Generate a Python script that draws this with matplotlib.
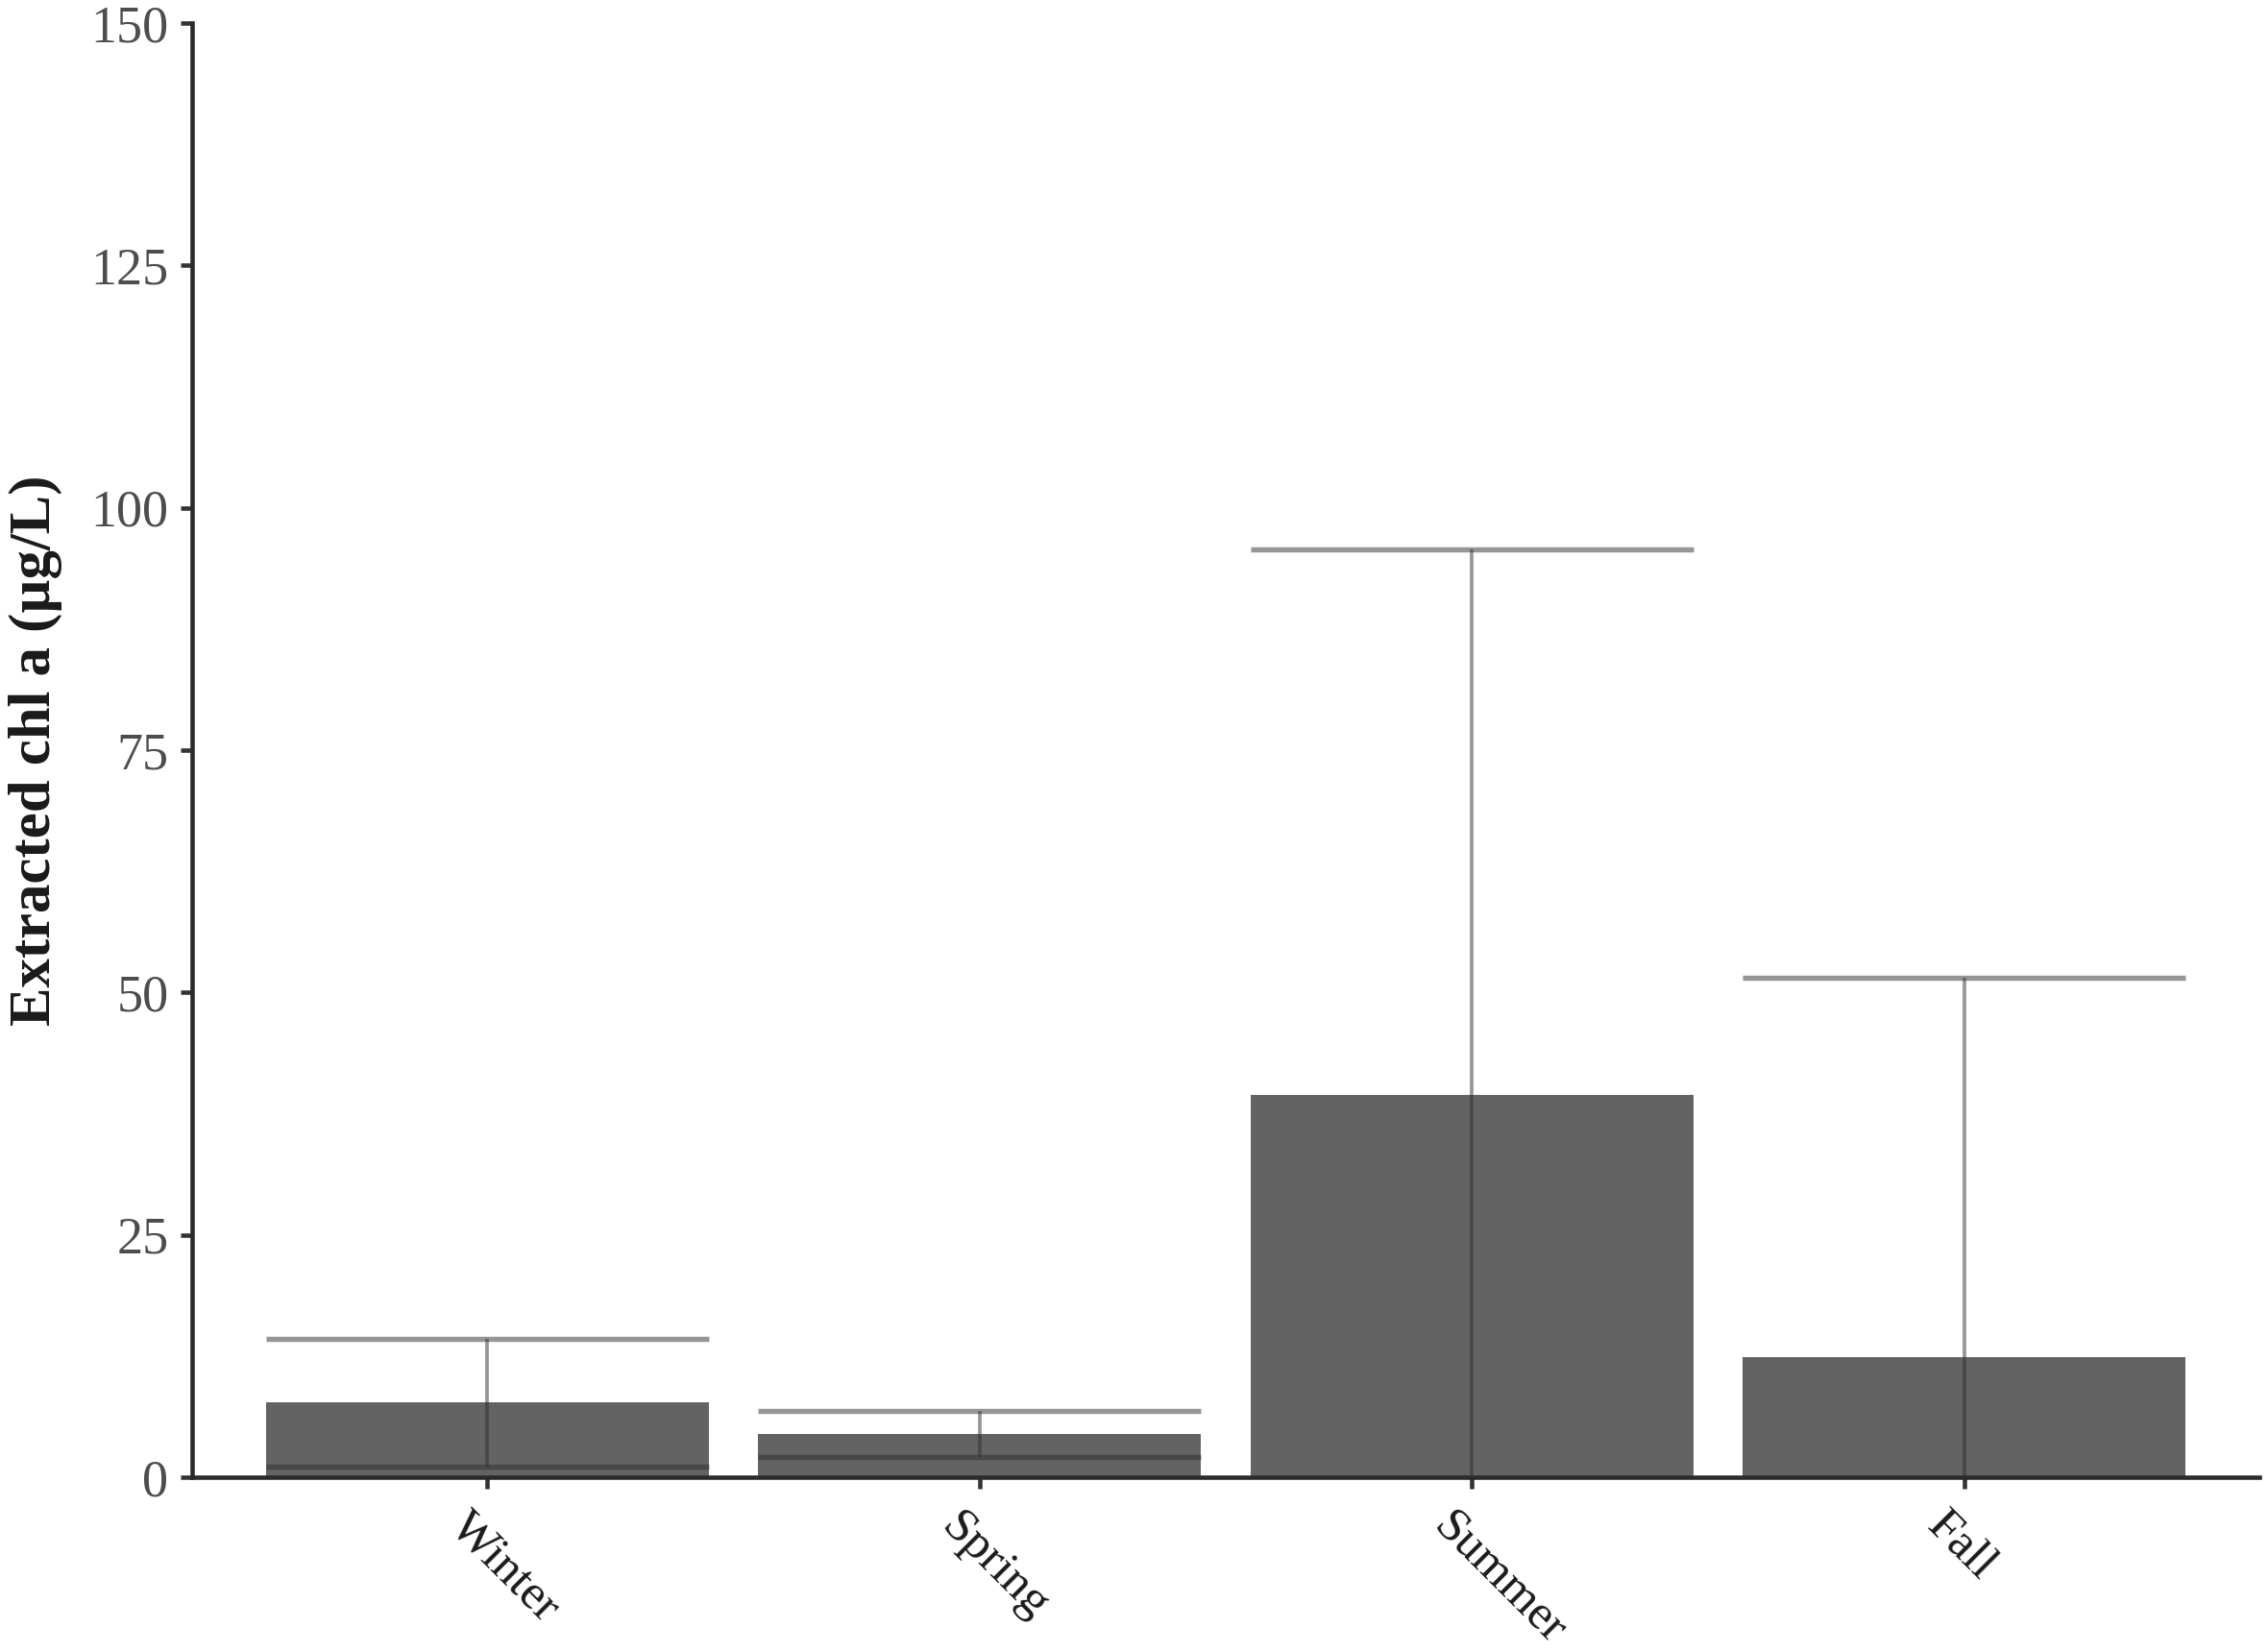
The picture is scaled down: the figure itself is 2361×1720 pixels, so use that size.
import matplotlib
matplotlib.use('Agg')
import matplotlib.pyplot as plt
import matplotlib.transforms as mtransforms
import numpy as np

seasons = ['Winter', 'Spring', 'Summer', 'Fall']
chl_mean = [7.7, 4.45, 39.4, 12.4]
chl_se = [6.6, 2.35, 56.3, 39.1]
yticks = [0, 25, 50, 75, 100, 125, 150]

plt.rcParams['font.family'] = ['Liberation Serif', 'DejaVu Serif']

fig = plt.figure(figsize=(2361 / 300, 1720 / 300), dpi=300)
ax = fig.add_axes([0.0847, 0.1058, 0.9962 - 0.0847, 0.986 - 0.1058])

x = np.arange(1, len(seasons) + 1)
mean = np.array(chl_mean)
se = np.array(chl_se)
w = 0.9

ax.bar(x, mean, width=w, color='#636363', zorder=1)

# error bars: caps as wide as the bars, like ggplot geom_errorbar(width=.9)
ebc = '#2f2f2f'
ax.vlines(x, mean - se, mean + se, color=ebc, alpha=0.5, lw=0.9, zorder=2)
ax.hlines(mean + se, x - w / 2, x + w / 2, color=ebc, alpha=0.5, lw=1.3, zorder=2)
ax.hlines(mean - se, x - w / 2, x + w / 2, color=ebc, alpha=0.5, lw=1.3, zorder=2)

ax.set_xlim(0.4, len(seasons) + 0.6)
ax.set_ylim(0, 150)
ax.set_yticks(yticks)
ax.set_yticklabels([str(v) for v in yticks], fontsize=13, color='#4d4d4d')
ax.set_xticks(x)
ax.set_xticklabels([])

# rotated season labels, placed under the ticks with a small offset
offs = mtransforms.ScaledTranslation(-16 / 300, -28 / 300, fig.dpi_scale_trans)
for xi, name in zip(x, seasons):
    ax.text(xi, 0, name, transform=ax.get_xaxis_transform() + offs,
            fontsize=12.3, color='#1a1a1a', rotation=-45,
            ha='left', va='top', rotation_mode='anchor', clip_on=False)

for s in ['top', 'right']:
    ax.spines[s].set_visible(False)
for s in ['left', 'bottom']:
    ax.spines[s].set_color('#2b2b2b')
    ax.spines[s].set_linewidth(1.1)
    ax.spines[s].set_zorder(3)
ax.tick_params(length=2.9, width=1.1, color='#333333', pad=3)

ax.set_ylabel('Extracted chl a (µg/L)', fontsize=14.6, fontweight='bold',
              color='#1a1a1a')
ax.yaxis.set_label_coords(-0.0627, 0.5)

fig.savefig('out.png', dpi=300)
